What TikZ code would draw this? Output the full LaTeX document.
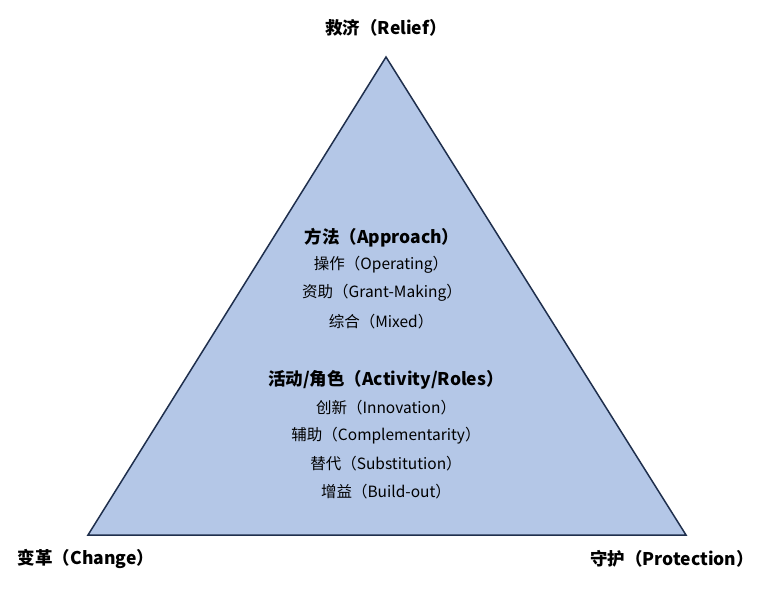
\documentclass[tikz,border=0pt]{standalone}
\usepackage{fontspec}
\setmainfont{Noto Sans CJK SC}
\begin{document}
\begin{tikzpicture}[x=1pt, y=-1pt, thick,
    corner/.style={font=\fontsize{17.5}{20}\selectfont\bfseries},
    head/.style={font=\fontsize{17.5}{20}\selectfont\bfseries},
    item/.style={font=\fontsize{15.5}{18}\selectfont}]
            \useasboundingbox (0,0) rectangle (770,590);
            \coordinate (top) at (386,57);
            \coordinate (left) at (88,535);
            \coordinate (right) at (686,535);
            \draw[line width=1.5pt, draw={rgb,255:red,31;green,47;blue,77}, fill={rgb,255:red,180;green,199;blue,231}, line join=miter] (top) -- (left) -- (right) -- cycle;
            \node[corner] (relief) at (386,28) {救济（Relief）};
            \node[corner] (change) at (86,559) {变革（Change）};
            \node[corner] (protection) at (672,559) {守护（Protection）};
            \node[head] (approach) at (382,238) {方法（Approach）};
            \node[item] (operating) at (381,265) {操作（Operating）};
            \node[item] (grant) at (382,293) {资助（Grant-Making）};
            \node[item] (mixed) at (381,322) {综合（Mixed）};
            \node[head] (roles) at (386,380) {活动/角色（Activity/Roles）};
            \node[item] (innovation) at (386,408) {创新（Innovation）};
            \node[item] (complement) at (386,436) {辅助（Complementarity）};
            \node[item] (substitution) at (386,464) {替代（Substitution）};
            \node[item] (buildout) at (386,492) {增益（Build-out）};
        \end{tikzpicture}
\end{document}
